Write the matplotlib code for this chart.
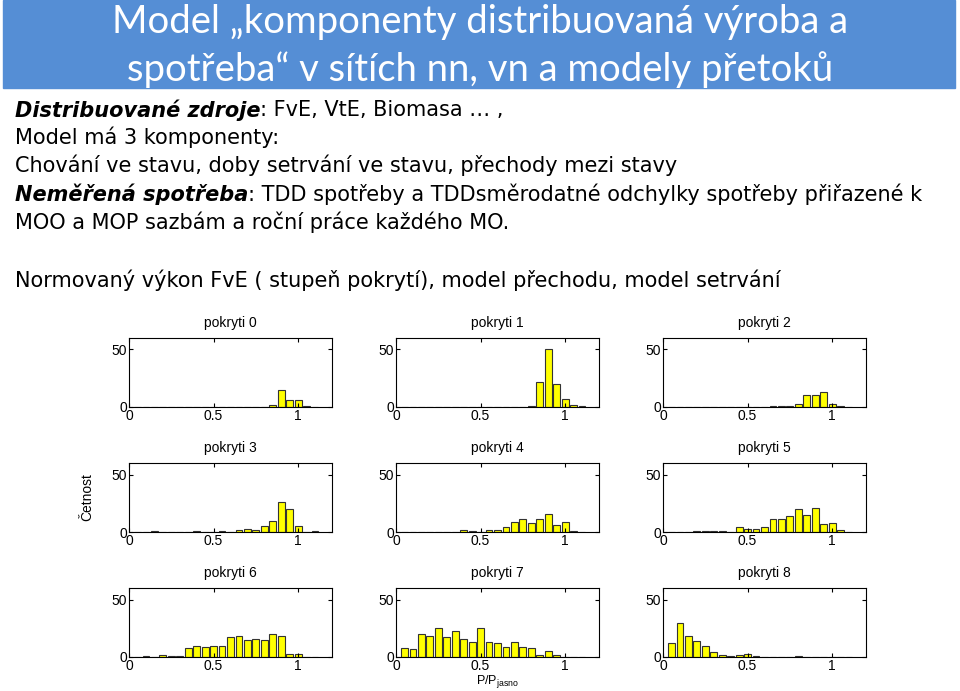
import matplotlib.pyplot as plt
import numpy as np

# histogram bin centres (width 0.05) and counts for each cloud-cover class
centers = np.round(np.arange(0.05, 1.15, 0.05), 2)

counts = {
    "pokryti 0": {0.85: 2, 0.9: 15, 0.95: 6, 1.0: 6, 1.05: 1},
    "pokryti 1": {0.8: 1, 0.85: 22, 0.9: 50, 0.95: 20, 1.0: 7, 1.05: 2, 1.1: 1},
    "pokryti 2": {0.65: 1, 0.7: 1, 0.75: 1, 0.8: 3, 0.85: 10, 0.9: 10, 0.95: 13, 1.0: 3, 1.05: 1},
    "pokryti 3": {0.15: 1, 0.4: 1, 0.55: 1, 0.65: 2, 0.7: 3, 0.75: 2, 0.8: 5, 0.85: 10,
                  0.9: 26, 0.95: 20, 1.0: 5, 1.1: 1},
    "pokryti 4": {0.4: 2, 0.45: 1, 0.55: 2, 0.6: 2, 0.65: 4, 0.7: 9, 0.75: 11, 0.8: 8,
                  0.85: 11, 0.9: 16, 0.95: 6, 1.0: 9, 1.05: 1},
    "pokryti 5": {0.2: 1, 0.25: 1, 0.3: 1, 0.35: 1, 0.45: 4, 0.5: 3, 0.55: 3, 0.6: 4,
                  0.65: 11, 0.7: 11, 0.75: 14, 0.8: 20, 0.85: 15, 0.9: 21, 0.95: 7,
                  1.0: 8, 1.05: 2},
    "pokryti 6": {0.1: 1, 0.2: 2, 0.25: 1, 0.3: 1, 0.35: 8, 0.4: 10, 0.45: 9, 0.5: 10,
                  0.55: 10, 0.6: 17, 0.65: 18, 0.7: 15, 0.75: 16, 0.8: 15, 0.85: 20,
                  0.9: 18, 0.95: 3, 1.0: 3},
    "pokryti 7": {0.05: 8, 0.1: 7, 0.15: 20, 0.2: 18, 0.25: 25, 0.3: 17, 0.35: 23, 0.4: 16,
                  0.45: 13, 0.5: 25, 0.55: 13, 0.6: 12, 0.65: 9, 0.7: 13, 0.75: 9,
                  0.8: 8, 0.85: 2, 0.9: 5, 0.95: 2},
    "pokryti 8": {0.05: 12, 0.1: 30, 0.15: 18, 0.2: 14, 0.25: 10, 0.3: 4, 0.35: 2, 0.4: 1,
                  0.45: 2, 0.5: 3, 0.55: 1, 0.8: 1},
}

title_lines = ["Model \u201ekomponenty distribuovaná výroba a",
               "spotřeba\u201c v sítích nn, vn a modely přetoků"]

fig = plt.figure(figsize=(9.6, 6.91), dpi=100)

# blue header band
fig.patches.append(plt.Rectangle((3 / 960, 1 - 88 / 691), 952 / 960, 88 / 691,
                                 transform=fig.transFigure, color="#558ED5", zorder=0))
fig.text(0.5, 1 - 22 / 691, title_lines[0], ha="center", va="center", color="white",
         fontsize=27.5, family=["Lato", "DejaVu Sans"])
fig.text(0.5, 1 - 70 / 691, title_lines[1], ha="center", va="center", color="white",
         fontsize=27.5, family=["Lato", "DejaVu Sans"])

body = dict(fontsize=15.0, family=["DejaVu Sans"], va="center", ha="left")
x0 = 15 / 960


def ypos(py):
    return 1 - py / 691


t = fig.text(x0, ypos(110), "Distribuované zdroje", style="italic", weight="bold", **body)
fig.canvas.draw()
bb = t.get_window_extent()
fig.text(bb.x1 / 960, ypos(110), ": FvE, VtE, Biomasa \u2026 ,", **body)
fig.text(x0, ypos(137), "Model má 3 komponenty:", **body)
fig.text(x0, ypos(165), "Chování ve stavu, doby setrvání ve stavu, přechody mezi stavy", **body)
t = fig.text(x0, ypos(194), "Neměřená spotřeba", style="italic", weight="bold", **body)
fig.canvas.draw()
bb = t.get_window_extent()
fig.text(bb.x1 / 960, ypos(194),
         ": TDD spotřeby a TDDsměrodatné odchylky spotřeby přiřazené k", **body)
fig.text(x0, ypos(222), "MOO a MOP sazbám a roční práce každého MO.", **body)
fig.text(x0, ypos(280), "Normovaný výkon FvE ( stupeň pokrytí), model přechodu, model setrvání",
         **body)

lefts = [129, 396, 663]
tops = [338, 463, 588]
w, h = 203, 69
small = ["Liberation Sans", "DejaVu Sans"]

for i, (name, d) in enumerate(counts.items()):
    r, c = divmod(i, 3)
    ax = fig.add_axes([lefts[c] / 960, 1 - (tops[r] + h) / 691, w / 960, h / 691])
    vals = [d.get(x, 0) for x in centers]
    ax.bar(centers, vals, width=0.04, color="#FFFF00", edgecolor="#333333", linewidth=0.8)
    ax.set_xlim(0, 1.2)
    ax.set_ylim(0, 60)
    ax.set_xticks([0, 0.5, 1])
    ax.set_xticklabels(["0", "0.5", "1"])
    ax.set_yticks([0, 50])
    ax.tick_params(direction="in", top=True, right=True, length=3, labelsize=10, pad=1.5)
    for lab in ax.get_xticklabels() + ax.get_yticklabels():
        lab.set_family(small)
    ax.set_title(name, fontsize=10, family=small, pad=8)
    if i == 3:
        ax.set_ylabel("Četnost", fontsize=10, family=small, labelpad=12)
    if i == 7:
        ax.set_xlabel("P/P$_{\\mathregular{jasno}}$", fontsize=9, family=small, labelpad=0)

fig.savefig("out.png", dpi=100)
